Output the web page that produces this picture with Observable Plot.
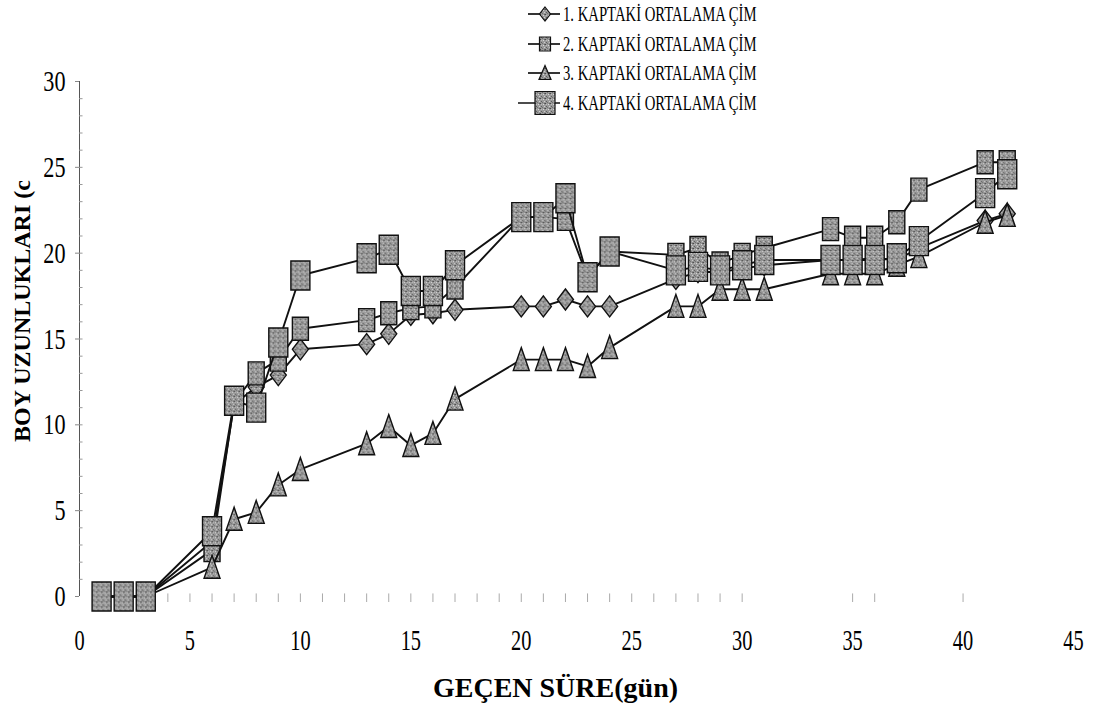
<!DOCTYPE html>
<html>
<head>
<meta charset="utf-8">
<script src="https://cdn.jsdelivr.net/npm/d3@7"></script>
<script src="https://cdn.jsdelivr.net/npm/@observablehq/plot@0.6"></script>
<style>
  body { margin: 0; background: #fff; }
  #wrap { position: relative; width: 1104px; height: 724px; overflow: hidden; background: #fff; }
  #chart { position: absolute; left: 0; top: 0; }
  .leg { position: absolute; height: 30px; }
  .leg svg { position: absolute; left: 0; top: 0; overflow: visible; }
  .leg span {
    position: absolute; white-space: nowrap;
    font-family: "Liberation Serif", "Times New Roman", serif; font-size: 21px; line-height: 30px;
    color: #000; transform: scaleX(0.7); transform-origin: left center;
  }
</style>
</head>
<body>
<svg width="0" height="0" style="position:absolute">
  <defs>
    <pattern id="grain" width="5" height="5" patternUnits="userSpaceOnUse">
      <rect width="5" height="5" fill="#999"/>
      <rect x="0" y="0" width="1" height="1" fill="#4a4a4a"/>
      <rect x="3" y="1" width="1" height="1" fill="#d8d8d8"/>
      <rect x="1" y="3" width="1" height="1" fill="#5e5e5e"/>
      <rect x="4" y="3" width="1" height="1" fill="#cfcfcf"/>
      <rect x="2" y="4" width="1" height="1" fill="#707070"/>
      <rect x="1" y="1" width="1" height="1" fill="#bbb"/>
      <rect x="4" y="0" width="1" height="1" fill="#666"/>
    </pattern>
  </defs>
</svg>
<div id="wrap"><div id="chart"></div></div>
<script>
// Measurement days (days elapsed)
const days = [1, 2, 3, 6, 7, 8, 9, 10, 13, 14, 15, 16, 17, 20, 21, 22, 23, 24, 27, 28, 29, 30, 31, 34, 35, 36, 37, 38, 41, 42];

// Mean grass height per pot (cm)
const kap1 = [0, 0, 0, 3.2, 11.2, 12.2, 12.9, 14.4, 14.7, 15.3, 16.4, 16.5, 16.7, 16.9, 16.9, 17.3, 16.9, 16.9, 18.5, 18.9, 18.9, 19.1, 19.3, 19.6, 19.6, 19.7, 19.6, 20.3, 21.9, 22.3];
const kap2 = [0, 0, 0, 2.7, 11.3, 13.0, 13.8, 15.6, 16.1, 16.5, 16.8, 16.9, 18.0, 22.1, 22.1, 22.0, 18.6, 20.1, 19.9, 20.3, 19.4, 19.9, 20.3, 21.4, 20.9, 20.9, 21.8, 23.7, 25.3, 25.3];
const kap3 = [0, 0, 0, 1.7, 4.5, 4.9, 6.5, 7.4, 8.9, 9.9, 8.8, 9.5, 11.5, 13.8, 13.8, 13.8, 13.4, 14.5, 16.9, 16.9, 17.9, 17.9, 17.9, 18.8, 18.8, 18.8, 19.3, 19.8, 21.8, 22.2];
const kap4 = [0, 0, 0, 3.8, 11.4, 11.0, 14.8, 18.7, 19.7, 20.2, 17.8, 17.8, 19.3, 22.1, 22.1, 23.2, 18.6, 20.1, 19.0, 19.2, 19.0, 19.3, 19.6, 19.6, 19.6, 19.6, 19.7, 20.7, 23.5, 24.6];

const seriesNames = [
  "1. KAPTAKİ ORTALAMA ÇİM",
  "2. KAPTAKİ ORTALAMA ÇİM",
  "3. KAPTAKİ ORTALAMA ÇİM",
  "4. KAPTAKİ ORTALAMA ÇİM"
];

const xTicks = [0, 5, 10, 15, 20, 25, 30, 35, 40, 45];
const yTicks = [0, 5, 10, 15, 20, 25, 30];
const yMinor = d3.range(1, 30);
const xMinor = [4, 5, 6, 7, 8, 9, 10, 11, 12, 13, 14, 15, 16, 17, 18, 19, 20, 21, 22, 23, 24, 25, 26, 27, 28, 29, 30, 35, 36, 40];

const xTitle = "GEÇEN SÜRE(gün)";
const yTitle = "BOY UZUNLUKLARI (c";

// Tall marker shapes (points drawn relative to the marker centre)
const diamond = { draw(c) { c.moveTo(0, -10.5); c.lineTo(8, 0); c.lineTo(0, 10.5); c.lineTo(-8, 0); c.closePath(); } };
const smallSquare = { draw(c) { c.rect(-8, -11.5, 16, 23); } };
const triangle = { draw(c) { c.moveTo(0, -12); c.lineTo(8, 11); c.lineTo(-8, 11); c.closePath(); } };
const bigSquare = { draw(c) { c.rect(-9.5, -14.5, 19, 29); } };
const symbols = [diamond, smallSquare, triangle, bigSquare];

// Smaller versions for the key
const keySymbols = [
  { draw(c) { c.moveTo(0, -7); c.lineTo(5.5, 0); c.lineTo(0, 7); c.lineTo(-5.5, 0); c.closePath(); } },
  { draw(c) { c.rect(-5.5, -7, 11, 14); } },
  { draw(c) { c.moveTo(0, -7.5); c.lineTo(6, 6.5); c.lineTo(-6, 6.5); c.closePath(); } },
  { draw(c) { c.rect(-10, -11.5, 20, 23); } }
];

const allSeries = [kap1, kap2, kap3, kap4];
const rows = allSeries.flatMap((vals, s) => days.map((d, i) => ({ day: d, height: vals[i], s })));

const serif = "'Liberation Serif', 'Times New Roman', serif";
const ink = "#111";

const seriesMarks = [0, 1, 2, 3].flatMap((s) => [
  Plot.line(rows, { filter: (r) => r.s === s, x: "day", y: "height", stroke: ink, strokeWidth: 1.9 }),
  Plot.dot(rows, {
    filter: (r) => r.s === s, x: "day", y: "height",
    symbol: symbols[s], r: 5, fill: "url(#grain)", stroke: ink, strokeWidth: 1.4
  })
]);

const chart = Plot.plot({
  width: 1104,
  height: 724,
  marginLeft: 79,
  marginRight: 31,
  marginTop: 81,
  marginBottom: 128,
  style: { fontFamily: serif, background: "#fff", color: "#000" },
  x: { domain: [0, 45] },
  y: { domain: [0, 30] },
  marks: [
    Plot.ruleX([0], { y1: 0, y2: 30, stroke: "#555", strokeWidth: 1 }),
    Plot.ruleY(yMinor, { x1: 0, x2: 0.16, stroke: "#999", strokeWidth: 1 }),
    Plot.ruleX(xMinor, { y1: -0.35, y2: 0.15, stroke: "#aaa", strokeWidth: 1 }),
    Plot.axisY({ ticks: yTicks, tickSize: 4, tickPadding: 10, fontSize: 30, label: null, stroke: "#888" }),
    Plot.axisX({ ticks: xTicks, tickSize: 0, tickPadding: 32, fontSize: 30, label: null }),
    ...seriesMarks,
    Plot.text([yTitle], {
      text: (d) => d, frameAnchor: "left", textAnchor: "middle", rotate: -90, dx: -57, dy: -28,
      fontSize: 24, fontWeight: "bold", ariaLabel: "y-title"
    }),
    Plot.text([xTitle], {
      text: (d) => d, frameAnchor: "bottom", lineAnchor: "middle", dx: -21, dy: 92,
      fontSize: 28, fontWeight: "bold", ariaLabel: "x-title"
    })
  ]
});

document.getElementById("chart").appendChild(chart);

// Narrow the horizontal lettering; stretch the rotated title along its length
function squeeze(selector, sx) {
  chart.querySelectorAll(selector).forEach((t) => {
    const tr = t.getAttribute("transform") || "";
    t.setAttribute("transform", `${tr} scale(${sx},1)`);
  });
}
squeeze('g[aria-label="x-axis tick label"] text', 0.68);
squeeze('g[aria-label="y-axis tick label"] text', 0.74);
squeeze('g[aria-label="x-title"] text', 0.8);
squeeze('g[aria-label="y-title"] text', 1.08);

// Key at the top centre
const keyRows = [14, 43.5, 73, 103];
const wrap = document.getElementById("wrap");
seriesNames.forEach((name, s) => {
  const row = document.createElement("div");
  row.className = "leg";
  row.style.left = "500px";
  row.style.top = (keyRows[s] - 15) + "px";
  row.style.width = "300px";
  const svg = d3.create("svg").attr("width", 64).attr("height", 30);
  const x0 = s === 3 ? 18 : 28;
  svg.append("line").attr("x1", x0).attr("x2", 60).attr("y1", 15).attr("y2", 15)
    .attr("stroke", ink).attr("stroke-width", 1.7);
  svg.append("path").attr("d", d3.symbol(keySymbols[s])())
    .attr("transform", "translate(45,15)")
    .attr("fill", "url(#grain)").attr("stroke", ink).attr("stroke-width", 1.2);
  row.appendChild(svg.node());
  const label = document.createElement("span");
  label.style.left = "63px";
  label.style.top = "0px";
  label.textContent = name;
  row.appendChild(label);
  wrap.appendChild(row);
});
</script>
</body>
</html>
